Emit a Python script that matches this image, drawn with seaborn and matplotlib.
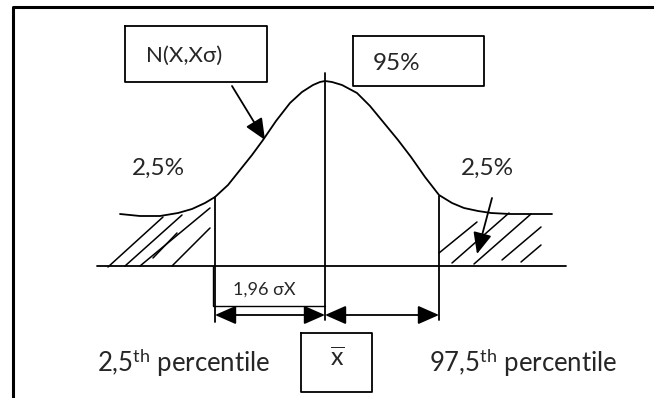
import matplotlib
matplotlib.use('Agg')
import matplotlib.pyplot as plt
import seaborn as sns
import pandas as pd

# curve (pixel coords, y downwards)
curve_x = [120, 140, 160, 178, 192, 205, 215, 228, 240, 252, 263, 276, 290, 302, 313, 320, 325,
           332, 342, 357, 370, 384, 398, 411, 425, 439, 452, 464, 478, 491, 510, 530, 552]
curve_y = [214, 216, 216, 213, 209, 203, 197, 185, 170, 155, 140, 121, 103, 92, 85, 82, 81,
           82, 85, 93, 106, 123, 140, 157, 177, 195, 203, 208, 211, 213, 214, 214, 214]

# hatch strokes: (x0, y0, x1, y1)
hatch_left = [(108, 267, 163, 217), (125, 266, 182, 215), (140, 266, 210, 208),
              (153, 258, 177, 233), (172, 266, 210, 228)]
hatch_right = [(439, 253, 477, 222), (452, 263, 509, 213), (474, 264, 531, 214),
               (502, 260, 541, 227), (521, 262, 541, 245)]

tail_labels = ['2,5%', '2,5%']
centre_label = '95%'
dist_label = 'N(X,Xσ)'
width_label = '1,96 σX'
pct_labels = [r'2,5$^{\mathrm{th}}$ percentile', r'97,5$^{\mathrm{th}}$ percentile']

sns.set_style('white')
plt.rcParams['font.family'] = ['Lato', 'DejaVu Sans']
plt.rcParams['mathtext.fontset'] = 'custom'
plt.rcParams['mathtext.rm'] = 'Lato'
plt.rcParams['mathtext.it'] = 'Lato:italic'

fig = plt.figure(figsize=(6.54, 3.98), dpi=100)
ax = fig.add_axes([0, 0, 1, 1])
ax.set_xlim(0, 654)
ax.set_ylim(398, 0)
ax.axis('off')

txt = '#262626'
lw = 1.3

# frame
ax.plot([12.5, 12.5, 654], [398, 6.5, 6.5], color='black', lw=2.2)

# curve
df = pd.DataFrame({'x': curve_x, 'y': curve_y})
sns.lineplot(data=df, x='x', y='y', sort=False, color='black', lw=lw, ax=ax)
ax.set_xlabel('')
ax.set_ylabel('')

# baseline + verticals
ax.plot([97, 566], [266, 266], color='black', lw=lw)
ax.plot([325, 325], [73, 320], color='black', lw=lw)
ax.plot([215, 215], [197, 322], color='black', lw=lw)
ax.plot([439, 439], [196, 320], color='black', lw=lw)

for x0, y0, x1, y1 in hatch_left + hatch_right:
    ax.plot([x0, x1], [y0, y1], color='black', lw=1.1)

# boxes
def box(x0, y0, x1, y1):
    ax.plot([x0, x1, x1, x0, x0], [y0, y0, y1, y1, y0], color='black', lw=1.3)

box(125, 26, 267, 82)
box(353, 36, 484, 86)
box(301, 333, 372, 392)
ax.plot([213, 213, 325], [266, 306, 306], color='black', lw=1.0)

# arrows
head = dict(arrowstyle='-|>,head_length=0.5,head_width=0.22', color='black', lw=1.3,
            mutation_scale=26, shrinkA=0, shrinkB=0)
ax.annotate('', xy=(265, 140), xytext=(232, 86), arrowprops=head)
ax.annotate('', xy=(477, 254), xytext=(492, 198), arrowprops=head)
dbl = dict(arrowstyle='<|-|>,head_length=0.5,head_width=0.22', color='black', lw=1.3,
           mutation_scale=26, shrinkA=0, shrinkB=0)
ax.annotate('', xy=(215, 315), xytext=(325, 315), arrowprops=dbl)
ax.annotate('', xy=(325, 315), xytext=(439, 315), arrowprops=dbl)

# text
ax.text(184, 56, dist_label, fontsize=16, color=txt, ha='center', va='center')
ax.text(373, 63, centre_label, fontsize=17.5, color=txt, ha='left', va='center')
ax.text(132, 168, tail_labels[0], fontsize=17.5, color=txt, ha='left', va='center')
ax.text(461, 168, tail_labels[1], fontsize=17.5, color=txt, ha='left', va='center')
ax.text(264, 290, width_label, fontsize=13, color=txt, ha='center', va='center')
ax.text(97, 363, pct_labels[0], fontsize=18.5, color=txt, ha='left', va='center')
ax.text(429, 363, pct_labels[1], fontsize=18.5, color=txt, ha='left', va='center')
ax.text(337, 358, r'$\overline{\mathrm{x}}$', fontsize=18, color=txt, ha='center', va='center')

fig.savefig('out.png', dpi=100)
